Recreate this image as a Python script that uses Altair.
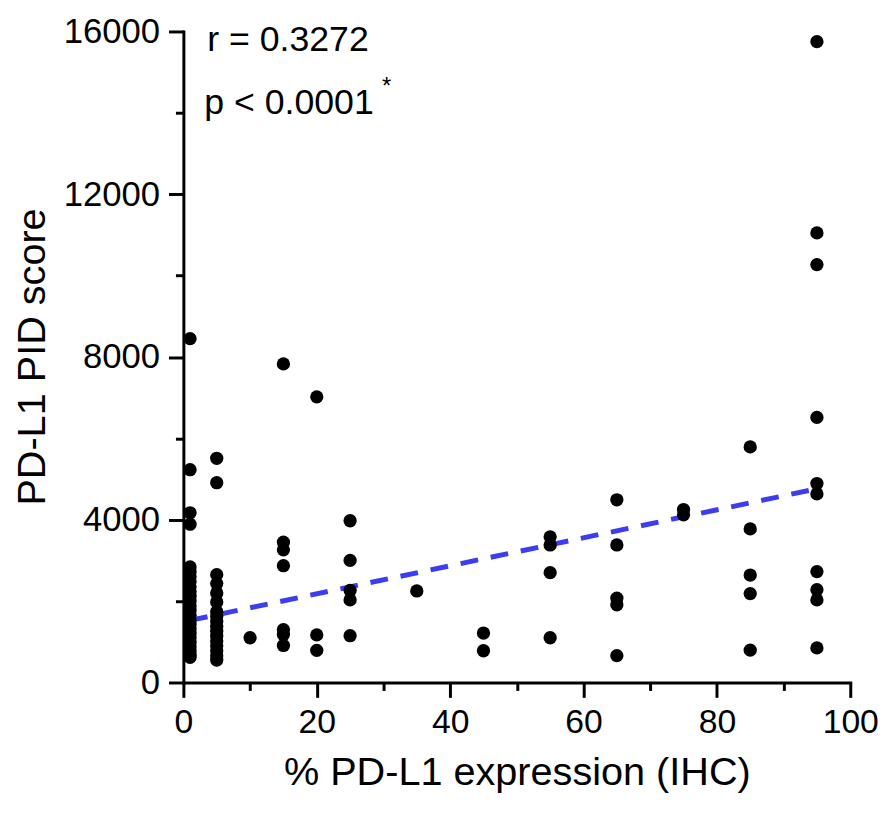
import altair as alt
import pandas as pd

# % PD-L1 expression (IHC) groups and PD-L1 PID scores
grp_1 = [8450, 5230, 4170, 3890, 2840, 2720, 2600, 2480, 2350, 2230, 2120, 2000,
         1880, 1770, 1650, 1540, 1430, 1320, 1210, 1100, 990, 880, 780, 690, 620]
grp_5 = [5510, 4910, 2650, 2430, 2200, 1980, 1740, 1620, 1500, 1380, 1260, 1140,
         1020, 900, 780, 660, 550]
grp_10 = [1100]
grp_15 = [7830, 3450, 3260, 2870, 1300, 1180, 910]
grp_20 = [7020, 1170, 790]
grp_25 = [3975, 3000, 2265, 2030, 1150]
grp_35 = [2250]
grp_45 = [1215, 780]
grp_55 = [3580, 3380, 2700, 1100]
grp_65 = [4490, 3380, 2070, 1910, 660]
grp_75 = [4250, 4120]
grp_85 = [5790, 3775, 2640, 2185, 795]
grp_95 = [15750, 11050, 10270, 6515, 4890, 4635, 2725, 2280, 2030, 850]

groups = {1: grp_1, 5: grp_5, 10: grp_10, 15: grp_15, 20: grp_20, 25: grp_25,
          35: grp_35, 45: grp_45, 55: grp_55, 65: grp_65, 75: grp_75,
          85: grp_85, 95: grp_95}

# regression line end points
fit_x = [1, 95]
fit_y = [1526, 4760]

x_major = [0, 20, 40, 60, 80, 100]
x_minor = [10, 30, 50, 70, 90]
y_major = [0, 4000, 8000, 12000, 16000]
y_minor = [2000, 6000, 10000, 14000]

rows = [{"x": k, "y": v} for k, vals in groups.items() for v in vals]
pts = pd.DataFrame(rows)
fit = pd.DataFrame({"x": fit_x, "y": fit_y})
one = pd.DataFrame({"a": [0]})

FONT = "Liberation Sans"
xs = alt.Scale(domain=[0, 100], nice=False, zero=False)
ys = alt.Scale(domain=[0, 16000], nice=False)

tick_style = dict(tickColor="black", tickWidth=3, labelColor="black", labelFont=FONT,
                  titleFont=FONT, titleColor="black", grid=False)
major_style = dict(domainColor="black", domainWidth=3, domainCap="square",
                   labelFlush=False, **tick_style)

line = alt.Chart(fit).mark_line(color="#3c3cf0", strokeWidth=5, strokeDash=[18, 13]).encode(
    x=alt.X("x:Q", scale=xs, axis=alt.Axis(values=x_minor, labels=False, domain=False,
                                           tickSize=8, title=None, orient="bottom",
                                           **tick_style)),
    y=alt.Y("y:Q", scale=ys, axis=alt.Axis(values=y_minor, labels=False, domain=False,
                                           tickSize=8, title=None, orient="left",
                                           **tick_style)),
)

points = alt.Chart(pts).mark_circle(size=180, color="black", opacity=1).encode(
    x=alt.X("x:Q", scale=xs, axis=alt.Axis(values=x_major, tickSize=15, labelFontSize=34,
                                           labelPadding=8, format="d",
                                           title="% PD-L1 expression (IHC)",
                                           titleFontSize=40, titleFontWeight="normal",
                                           titleY=91, titleBaseline="middle",
                                           orient="bottom", **major_style)),
    y=alt.Y("y:Q", scale=ys, axis=alt.Axis(values=y_major, tickSize=15, labelFontSize=35,
                                           labelPadding=9, format="d",
                                           title="PD-L1 PID score",
                                           titleFontSize=40, titleFontWeight="normal",
                                           titleX=-152, titleY=328, titleBaseline="middle",
                                           orient="left", **major_style)),
)

r_text = alt.Chart(one).mark_text(text="r = 0.3272", font=FONT, fontSize=36, align="left",
                                  baseline="middle", color="black").encode(
    x=alt.value(24), y=alt.value(9))
p_text = alt.Chart(one).mark_text(text="p < 0.0001", font=FONT, fontSize=36, align="left",
                                  baseline="middle", color="black").encode(
    x=alt.value(21), y=alt.value(72))
star = alt.Chart(one).mark_text(text="*", font=FONT, fontSize=24, align="center",
                                baseline="middle", color="black").encode(
    x=alt.value(205), y=alt.value(56))

chart = alt.layer(line, points, r_text, p_text, star).resolve_axis(
    x="independent", y="independent"
).properties(
    width=673, height=657,
    autosize=alt.AutoSizeParams(type="none"),
    padding={"left": 177, "top": 20, "right": 28, "bottom": 126},
).configure_view(stroke=None)

chart.save("out.html", embed_options={"renderer": "svg", "actions": False})
